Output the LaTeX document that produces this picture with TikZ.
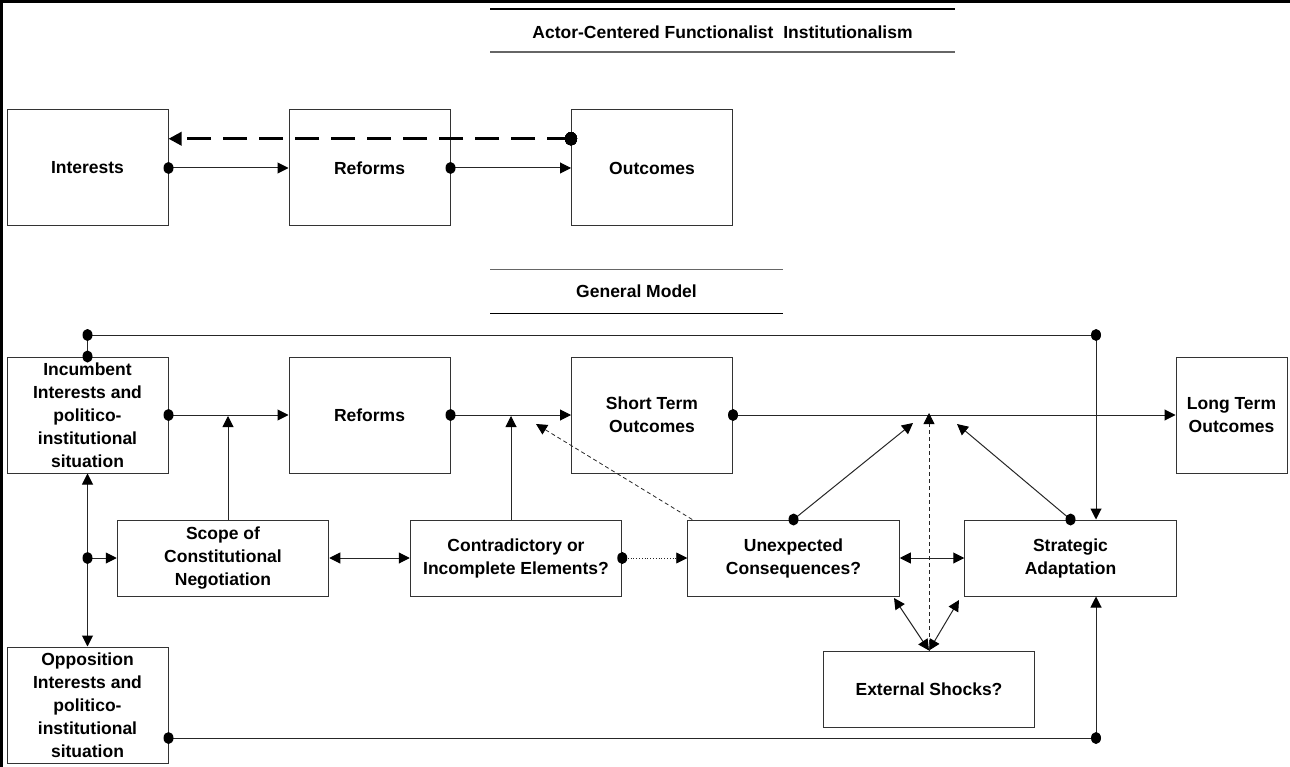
\documentclass[tikz,border=0pt]{standalone}
\usepackage{fontspec}
\setmainfont{Liberation Sans}
\usetikzlibrary{arrows.meta,calc}

\begin{document}
\begin{tikzpicture}
    [ x=1pt, y=-1pt,
      font={\fontsize{17.5}{23}\selectfont\bfseries},
      box/.style={draw=black!80, line width=1pt, align=center, inner sep=0pt,
                  minimum width=161pt, minimum height=116pt},
      widebox/.style={box, minimum width=211.5pt, minimum height=76pt},
      link/.style={black!85, line width=1pt,
                   >={Triangle[length=11pt,width=11pt,color=black]}},
      feedback/.style={black, line width=3.5pt, dash pattern=on 24pt off 12pt,
                       >={Triangle[length=13pt,width=13pt]}},
      faint/.style={link, line width=.8pt, dash pattern=on 4pt off 3pt},
      hint/.style={link, line width=.8pt, dotted},
      rule/.style={line width=1.5pt}
    ]
    \def\blob#1{\fill (#1) ellipse [x radius=5pt, y radius=6pt];}

    \useasboundingbox (0,0) rectangle (1290,767);

    % Frame
    \draw[line width=3pt] (1.5,767) -- (1.5,1.5) -- (1290,1.5);

    % Titles
    \node (ttl) at (722.5,32) {Actor-Centered Functionalist\ \ Institutionalism};
    \draw[rule] (490,9) -- (955,9);
    \draw[rule, black!60] (490,52) -- (955,52);
    \node (gmt) at (636.5,291) {General Model};
    \draw[rule, line width=1pt, black!60] (490,270) -- (783,270);
    \draw[rule, line width=1pt] (490,313) -- (783,313);

    % Functionalist boxes
    \node[box] (inte) at (87.5,168) {Interests};
    \node[box] (refo) at (369.5,168) {Reforms};
    \node[box] (outc) at (652,168) {Outcomes};

    % General model boxes
    \node[box] (incu) at (87.5,415) {Incumbent\\Interests and\\politico-\\institutional\\situation};
    \node[box] (refg) at (369.5,415) {Reforms};
    \node[box] (stou) at (652,415) {Short Term\\Outcomes};
    \node[box, minimum width=111pt] (lout) at (1231.5,415) {Long Term\\Outcomes};
    \node[widebox] (scop) at (223,558) {Scope of\\Constitutional\\Negotiation};
    \node[widebox] (cont) at (516,558) {Contradictory or\\Incomplete Elements?};
    \node[widebox] (unex) at (793.5,558) {Unexpected\\Consequences?};
    \node[widebox] (stra) at (1070.5,558) {Strategic\\Adaptation};
    \node[widebox] (exts) at (929,689) {External Shocks?};
    \node[box] (oppo) at (87.5,705) {Opposition\\Interests and\\politico-\\institutional\\situation};

    % Junctions
    \coordinate (fbS) at ($(outc.north west)!.25!(outc.south west)$);
    \coordinate (fbE) at ($(inte.north east)!.25!(inte.south east)$);
    \coordinate (topR) at (1096,335);
    \coordinate (topL) at (incu.north |- topR);
    \coordinate (botR) at (1096,738);
    \coordinate (oppoR) at (oppo.east |- botR);
    \coordinate (midL) at (incu.south |- scop.west);
    \coordinate (jA) at (228,416);
    \coordinate (jB) at (511,416);
    \coordinate (jC) at (536,424);
    \coordinate (jD) at (913,423);
    \coordinate (jE) at (929,413);
    \coordinate (jF) at (957,424);
    \coordinate (sU) at (894,598);
    \coordinate (sS) at (959,600);

    % Functionalist links
    \draw[link,->] (inte.east) -- (refo.west);
    \draw[link,->] (refo.east) -- (outc.west);
    \draw[feedback,->] (fbS) -- (fbE);

    % Main chain
    \draw[link,->] (incu.east) -- (refg.west);
    \draw[link,->] (refg.east) -- (stou.west);
    \draw[link,->] (stou.east) -- (lout.west);
    \draw[link,->] (incu.north) -- (topL) -- (topR) -- (topR |- stra.north);
    \draw[link,->] (oppoR) -- (botR) -- (botR |- stra.south);
    \draw[link,<->] (incu.south) -- (oppo.north);
    \draw[link,->] (midL) -- (scop.west);

    % Lower row
    \draw[link,->] (scop.north -| jA) -- (jA);
    \draw[link,->] (cont.north -| jB) -- (jB);
    \draw[link,<->] (scop.east) -- (cont.west);
    \draw[hint,->] (cont.east) -- (unex.west);
    \draw[faint,->] ([xshift=5pt]unex.north west) -- (jC);
    \draw[link,->] (unex.north) -- (jD);
    \draw[link,->] (stra.north) -- (jF);
    \draw[link,<->] (unex.east) -- (stra.west);
    \draw[link,<->] (exts.north) -- (sU);
    \draw[link,<->] (exts.north) -- (sS);
    \draw[faint,->] (exts.north) -- (jE);

    % Dots
    \foreach \p in {inte.east, refo.east, incu.east, refg.east, stou.east,
                    incu.north, topL, topR, midL, cont.east, unex.north,
                    stra.north, oppoR, botR}
        \blob{\p}
    \fill (fbS) ellipse [x radius=6pt, y radius=6.5pt];

\end{tikzpicture}
\end{document}
